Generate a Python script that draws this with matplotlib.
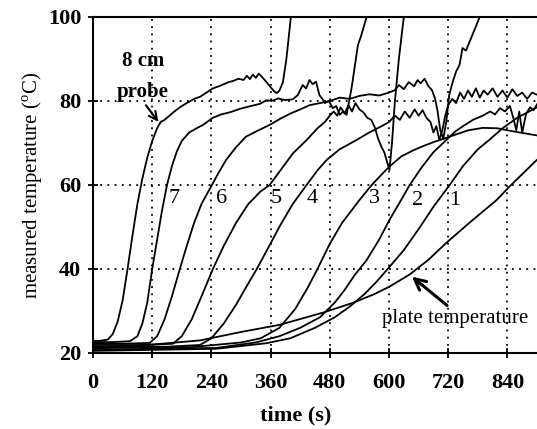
import matplotlib
matplotlib.use("Agg")
import matplotlib.pyplot as plt

# time (s) / temperature (C)
t_p8 = [0, 15, 30, 40, 50, 60, 70, 80, 90, 100, 110, 120, 130, 137, 145, 155, 165, 176, 190, 205,
        217, 230, 243, 255, 265, 275, 285, 295, 305, 312, 318, 324, 330, 336, 342, 348, 355, 362,
        368, 373, 378, 385, 392, 402]
T_p8 = [22.9, 22.9, 23.2, 24.5, 27.5, 32.5, 40, 48, 55.5, 61.5, 66.5, 70.5, 73.5, 75, 75.5, 76.5,
        77.5, 78.5, 79.5, 80.5, 81, 82, 83, 83.5, 84, 84.5, 84.8, 85.3, 85, 86, 85.2, 86.3, 85.5,
        86.5, 85.8, 85, 84, 83, 82.2, 81.9, 82.5, 84.5, 90, 101]

t_p7 = [0, 40, 75, 90, 100, 110, 120, 130, 140, 150, 160, 170, 180, 195, 210, 223, 243, 260, 277,
        300, 320, 338, 352, 362, 375, 390, 405, 415, 425, 432, 439, 445, 452, 459, 465, 470, 478,
        486, 493, 500, 507, 514, 524, 537, 544, 557]
T_p7 = [22.6, 22.6, 22.8, 24, 27, 32, 40, 47, 54, 60, 64.5, 68, 70.5, 72.5, 73.5, 74.3, 76, 76.8,
        77.3, 78.2, 78.8, 79.3, 80.2, 80, 80.6, 80.2, 80.4, 81.4, 83.8, 83, 85, 84, 84.6, 81.4,
        80.5, 79.5, 80, 78.3, 78.8, 76.7, 77.5, 76.7, 83, 93.3, 95.7, 101]

t_p6 = [0, 60, 115, 130, 145, 160, 176, 190, 205, 220, 241, 255, 270, 290, 310, 335, 358, 380,
        400, 420, 439, 460, 480, 500, 520, 540, 560, 580, 600, 612, 620, 630, 640, 651, 658, 664,
        672, 680, 687, 693, 698, 704, 710, 716, 722, 729, 736, 743, 749, 756, 763, 770, 777, 787]
T_p6 = [22.2, 22.2, 22.4, 24, 28, 33.5, 40, 45.5, 51, 55.5, 60, 63, 66, 69, 71.5, 73, 74.3, 75.8,
        77, 78, 79, 79.5, 80, 80.8, 80.5, 81.2, 81.6, 81.3, 82, 82.6, 83.8, 82.8, 84.5, 83.5, 85,
        84.2, 85.3, 83.5, 82.6, 80.7, 77.9, 73, 71, 75, 81.4, 84.5, 87, 88.6, 92.6, 92, 94, 96,
        98, 101]

t_p5 = [0, 100, 162, 180, 200, 220, 243, 265, 290, 315, 340, 358, 380, 405, 433, 455, 470, 480,
        488, 495, 502, 510, 518, 525, 532, 540, 548, 556, 564, 571, 578, 585, 591, 596, 601, 606,
        612, 620, 631]
T_p5 = [21.9, 21.9, 22.2, 24, 28, 33.5, 40, 45.5, 51, 55.5, 58.5, 60, 63.5, 67.5, 70.7, 73.5, 75,
        76.5, 77.5, 76.5, 78.5, 77, 79, 77.5, 79.5, 78, 77.3, 76, 75.5, 73.8, 71, 69, 67.6, 65.5,
        63.6, 70, 80, 90, 101]

t_p4 = [0, 150, 217, 240, 265, 290, 312, 332, 355, 380, 405, 433, 455, 474, 500, 534, 560, 585,
        600, 612, 622, 632, 642, 652, 660, 668, 676, 684, 690, 696, 702, 708, 714, 720, 728, 736,
        744, 752, 760, 768, 776, 784, 792, 800, 810, 820, 830, 840, 850, 860, 870, 880, 890, 900]
T_p4 = [21.5, 21.5, 21.9, 23.5, 27, 31.5, 36, 40, 45, 50.5, 55.5, 60, 63.5, 66, 68.5, 70.7, 72.5,
        74, 75, 76.5, 75.5, 77.5, 76, 78, 76.5, 77.8, 76, 75, 72.5, 74, 70.7, 73, 76.5, 79, 80.5,
        79.5, 82, 80.5, 82.5, 81, 83, 80.8, 82.5, 81.5, 83, 81, 82.5, 80.8, 82.8, 81.2, 82, 80.5,
        82, 81.5]

t_p3 = [0, 200, 300, 340, 378, 410, 435, 455, 480, 505, 540, 565, 585, 600, 625, 650, 668, 690,
        708, 735, 760, 790, 820, 850, 875, 900]
T_p3 = [21.2, 21.4, 22.5, 23.5, 26, 30.5, 35.5, 40, 46, 51, 56.4, 60, 62.5, 64.3, 66.8, 68.3, 69.2,
        70.2, 70.9, 72, 73, 73.6, 73.5, 72.8, 72.3, 71.8]

t_p2 = [0, 250, 330, 378, 420, 460, 490, 510, 530, 554, 580, 601, 620, 642, 665, 690, 716, 735,
        750, 770, 790, 805, 815, 825, 835, 845, 852, 858, 864, 870, 878, 886, 893, 900]
T_p2 = [20.8, 21.2, 22.5, 24, 26, 28.5, 32, 35, 38.5, 42, 47, 51.7, 55.5, 60, 64, 67.8, 70.7, 72.8,
        74, 75.5, 76.5, 77.5, 76.8, 78.3, 77.5, 78.8, 76, 73, 77.5, 72.5, 77, 78.5, 77.8, 79.2]

t_p1 = [0, 250, 350, 400, 450, 490, 520, 550, 575, 601, 630, 660, 690, 723, 750, 780, 803, 830,
        860, 900]
T_p1 = [20.5, 21, 22.3, 23.5, 26, 28.5, 31, 34, 37, 40.5, 44.5, 49.5, 54.8, 60, 64.5, 68.5, 70.7,
        73.5, 76, 78.5]

t_plate = [0, 120, 217, 300, 378, 466, 526, 570, 601, 642, 680, 716, 765, 818, 844, 900]
T_plate = [21, 22, 23, 25, 26.7, 29.6, 31.9, 34, 35.8, 38.7, 42.2, 46.2, 51.2, 56.4, 59.6, 66]

curves = [(t_p8, T_p8), (t_p7, T_p7), (t_p6, T_p6), (t_p5, T_p5), (t_p4, T_p4),
          (t_p3, T_p3), (t_p2, T_p2), (t_p1, T_p1), (t_plate, T_plate)]

probe_labels = ["7", "6", "5", "4", "3", "2", "1"]
label_t = [164, 261, 372, 445, 571, 658, 733]
label_T = [56.9, 56.9, 56.9, 56.9, 56.9, 56.4, 56.2]

xticks = [0, 120, 240, 360, 480, 600, 720, 840]
yticks = [20, 40, 60, 80, 100]

serif = ["Liberation Serif", "DejaVu Serif"]
plt.rcParams["font.family"] = serif
plt.rcParams["mathtext.fontset"] = "custom"
plt.rcParams["mathtext.rm"] = "Liberation Serif"

fig = plt.figure(figsize=(5.37, 4.29), dpi=100)
ax = fig.add_axes([0.1732, 0.1772, 0.8268, 0.7832])

for t, T in curves:
    ax.plot(t, T, color="black", lw=1.3)

ax.set_xlim(0, 900)
ax.set_ylim(20, 100)
ax.set_xticks(xticks)
ax.set_yticks(yticks)
ax.tick_params(direction="inout", length=7, width=1.3, labelsize=16)
ax.tick_params(axis="x", pad=11)
ax.tick_params(axis="y", pad=5)
for lab in ax.get_xticklabels() + ax.get_yticklabels():
    lab.set_fontweight("bold")

ax.grid(True, color="black", linestyle=(0, (1, 3)), lw=1.3)
for s in ["left", "bottom", "top"]:
    ax.spines[s].set_linewidth(1.5)
ax.spines["right"].set_visible(False)

ax.set_ylabel(r"measured temperature ($^{\mathrm{o}}$C)", fontsize=15, labelpad=2)
fig.text(296 / 537, 1 - 415 / 429, "time (s)", ha="center", va="center",
         fontsize=16, fontweight="bold")

for lab, tx, ty in zip(probe_labels, label_t, label_T):
    ax.text(tx, ty, lab, ha="center", va="center", fontsize=16)

ax.text(101, 89.5, "8 cm", ha="center", va="center", fontsize=15, fontweight="bold")
ax.text(101, 82.1, "probe", ha="center", va="center", fontsize=15, fontweight="bold")
ax.annotate("", xy=(136, 74.5), xytext=(104, 79.5),
            arrowprops=dict(arrowstyle="->", color="black", lw=1.5, mutation_scale=15))

ax.text(735, 28.3, "plate temperature", ha="center", va="center", fontsize=15)
ax.annotate("", xy=(642, 38.6), xytext=(722, 30.9),
            arrowprops=dict(arrowstyle="->", color="black", lw=2.2, mutation_scale=20))

fig.savefig("out.png", dpi=100)
